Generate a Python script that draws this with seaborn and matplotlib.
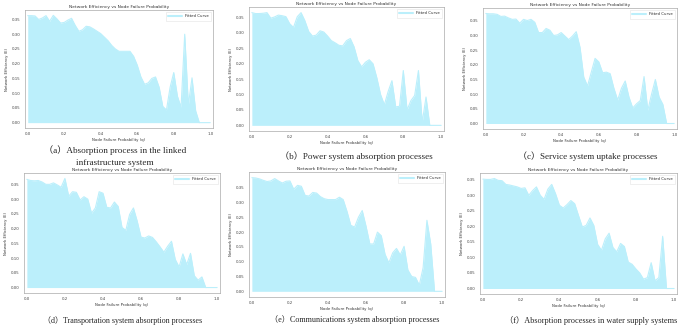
import numpy as np
import pandas as pd
import matplotlib
matplotlib.use("Agg")
import matplotlib.pyplot as plt
import seaborn as sns

q = [round(i * 0.02, 2) for i in range(51)]

eff_a = [0.363, 0.363, 0.362, 0.350, 0.355, 0.363, 0.344, 0.364, 0.352, 0.338,
         0.340, 0.348, 0.354, 0.330, 0.310, 0.315, 0.327, 0.325, 0.318, 0.310,
         0.302, 0.290, 0.278, 0.262, 0.250, 0.242, 0.242, 0.242, 0.242, 0.225,
         0.195, 0.155, 0.130, 0.135, 0.150, 0.155, 0.120, 0.055, 0.043, 0.120,
         0.170, 0.090, 0.052, 0.300, 0.060, 0.152, 0.040, 0.000, 0.000, 0.000,
         0.000]
eff_b = [0.366, 0.363, 0.363, 0.364, 0.366, 0.348, 0.352, 0.358, 0.356, 0.353,
         0.330, 0.318, 0.353, 0.366, 0.340, 0.305, 0.290, 0.293, 0.307, 0.303,
         0.290, 0.275, 0.268, 0.260, 0.258, 0.275, 0.282, 0.255, 0.210, 0.190,
         0.205, 0.213, 0.200, 0.155, 0.100, 0.067, 0.110, 0.145, 0.060, 0.062,
         0.178, 0.050, 0.080, 0.097, 0.178, 0.010, 0.092, 0.000, 0.000, 0.000,
         0.000]
eff_c = [0.375, 0.374, 0.374, 0.372, 0.365, 0.366, 0.360, 0.355, 0.356, 0.342,
         0.355, 0.351, 0.355, 0.345, 0.310, 0.310, 0.324, 0.318, 0.300, 0.302,
         0.310, 0.298, 0.286, 0.298, 0.313, 0.260, 0.158, 0.128, 0.175, 0.222,
         0.210, 0.173, 0.175, 0.170, 0.120, 0.080, 0.120, 0.145, 0.090, 0.053,
         0.067, 0.078, 0.160, 0.045, 0.100, 0.150, 0.090, 0.065, 0.000, 0.000,
         0.000]
eff_d = [0.367, 0.363, 0.362, 0.363, 0.358, 0.350, 0.350, 0.355, 0.348, 0.340,
         0.370, 0.310, 0.325, 0.323, 0.297, 0.308, 0.300, 0.252, 0.270, 0.325,
         0.320, 0.272, 0.270, 0.290, 0.275, 0.204, 0.194, 0.248, 0.270, 0.225,
         0.171, 0.168, 0.175, 0.170, 0.155, 0.138, 0.120, 0.140, 0.157, 0.095,
         0.070, 0.114, 0.078, 0.116, 0.040, 0.025, 0.036, 0.000, 0.000, 0.000,
         0.000]
eff_e = [0.384, 0.383, 0.380, 0.375, 0.371, 0.373, 0.381, 0.373, 0.366, 0.372,
         0.373, 0.345, 0.358, 0.355, 0.324, 0.322, 0.334, 0.332, 0.320, 0.313,
         0.310, 0.310, 0.310, 0.318, 0.310, 0.270, 0.223, 0.217, 0.250, 0.273,
         0.220, 0.160, 0.160, 0.200, 0.188, 0.125, 0.096, 0.130, 0.145, 0.123,
         0.152, 0.072, 0.050, 0.047, 0.021, 0.080, 0.240, 0.160, 0.000, 0.000,
         0.000]
eff_f = [0.352, 0.351, 0.351, 0.354, 0.348, 0.347, 0.335, 0.333, 0.330, 0.327,
         0.322, 0.324, 0.300, 0.315, 0.327, 0.300, 0.287, 0.320, 0.335, 0.305,
         0.268, 0.259, 0.270, 0.283, 0.273, 0.235, 0.198, 0.203, 0.227, 0.203,
         0.142, 0.123, 0.160, 0.178, 0.132, 0.118, 0.145, 0.135, 0.085, 0.078,
         0.063, 0.050, 0.030, 0.035, 0.083, 0.025, 0.035, 0.168, 0.000, 0.000,
         0.000]

series = [eff_a, eff_b, eff_c, eff_d, eff_e, eff_f]
captions = ["（a）Absorption process in the linked\ninfrastructure system",
            "（b）Power system absorption processes",
            "（c）Service system uptake processes",
            "（d）Transportation system absorption processes",
            "（e）Communications system absorption processes",
            "（f）Absorption processes in water supply systems"]
title = "Network Efficiency vs Node Failure Probability"
xlabel = "Node Failure Probability (q)"
ylabel = "Network Efficiency (E)"
legend_label = "Fitted Curve"

W, H = 685, 328
# axes boxes in pixels: left, right, top, bottom
boxes = [(25, 213, 10, 128), (249, 444, 7, 131), (483, 677, 8, 129),
         (24, 220, 173, 293), (249, 445, 172, 297), (480, 677, 173, 294)]
cap_pos = [(115, 156), (356, 156), (588, 156), (123, 321), (355, 320), (591, 320)]
cap_width = [143, 152, 140, 161, 170, 173]

sns.set_style("white")
plt.rcParams['font.family'] = ['DejaVu Sans']
fig = plt.figure(figsize=(W / 100, H / 100), dpi=100)
fill_col = "#bbeffb"

for i, (vals, box) in enumerate(zip(series, boxes)):
    l, r, t, b = box
    ax = fig.add_axes([l / W, 1 - b / H, (r - l) / W, (b - t) / H])
    df = pd.DataFrame({"q": q, "E": vals})
    sns.lineplot(data=df, x="q", y="E", ax=ax, color=fill_col, lw=0.8, label=legend_label)
    ax.fill_between(df["q"], 0, df["E"], color=fill_col, lw=0)
    ax.set_xlim(-0.015, 1.015)
    top = max(vals)
    ax.set_ylim(-0.05 * top, top * 1.05)
    ax.set_xticks([0, 0.2, 0.4, 0.6, 0.8, 1.0])
    ax.set_xticklabels(["0.0", "0.2", "0.4", "0.6", "0.8", "1.0"])
    yt = np.arange(0, top + 0.001, 0.05)
    ax.set_yticks(yt)
    ax.set_yticklabels([f"{v:.2f}" for v in yt])
    ax.tick_params(labelsize=2.8, length=1.5, width=0.4, pad=1.5, colors="#444444")
    ax.set_title(title, fontsize=3.2, pad=1.5, color="#333333")
    ax.set_xlabel(xlabel, fontsize=2.8, labelpad=1, color="#333333")
    ax.set_ylabel(ylabel, fontsize=2.8, labelpad=2, color="#333333")
    for s in ax.spines.values():
        s.set_color("#aaaaaa")
        s.set_linewidth(0.5)
    leg = ax.legend(loc="upper right", fontsize=2.8, frameon=True, handlelength=3.5,
                    borderpad=0.6, fancybox=False)
    leg.get_frame().set_linewidth(0.4)
    leg.get_frame().set_edgecolor("#dddddd")
    for line in leg.get_lines():
        line.set_linewidth(1.5)

renderer = fig.canvas.get_renderer()
for cap, (cx, cy), cw in zip(captions, cap_pos, cap_width):
    txt = fig.text(cx / W, 1 - cy / H, cap, ha="center", va="center", fontsize=7,
                   family=["Liberation Serif", "Noto Sans CJK SC"], linespacing=1.55)
    w = txt.get_window_extent(renderer).width
    txt.set_fontsize(7 * cw / w)

fig.savefig("out.png", dpi=100, facecolor="white")
